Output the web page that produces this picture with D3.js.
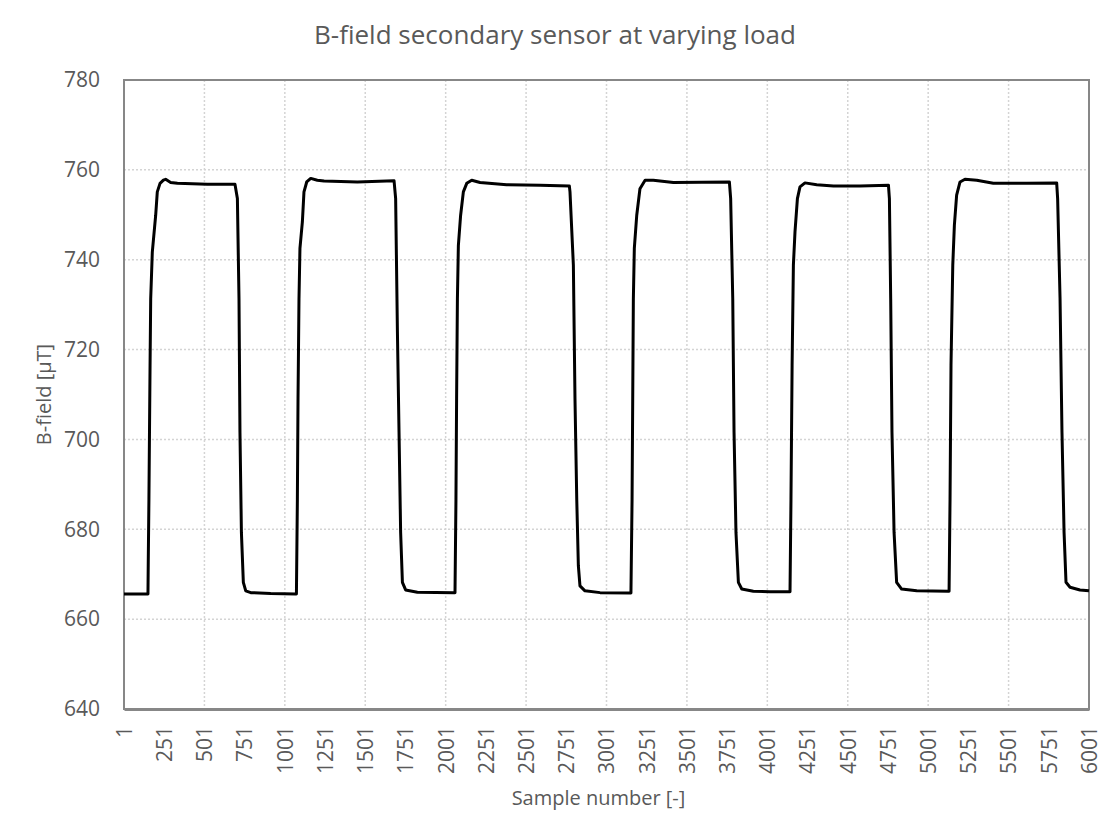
<!DOCTYPE html>
<html>
<head>
<meta charset="utf-8">
<script src="https://cdn.jsdelivr.net/npm/d3@7"></script>
<style>
    body { margin: 0; background: #ffffff; }
    text { font-family: "Open Sans", sans-serif; fill: #595959; }
</style>
</head>
<body>
<div id="chart"></div>
<script>

// Chart data
const sampleNumbers = [
    1, 150, 152, 156, 163, 167, 177, 198, 208, 225, 246, 260, 291, 333, 519, 691, 706, 716, 722, 731, 743, 758, 789, 913, 1068,
    1073, 1079, 1083, 1089, 1095, 1110, 1120, 1137, 1162, 1203, 1245, 1452, 1680, 1690, 1701, 1711, 1721, 1732, 1752, 1825, 2053,
    2059, 2065, 2069, 2074, 2080, 2094, 2111, 2132, 2163, 2215, 2380, 2588, 2770, 2774, 2795, 2805, 2816, 2826, 2836, 2867, 2961, 3151,
    3153, 3160, 3164, 3168, 3174, 3189, 3209, 3241, 3292, 3417, 3765, 3773, 3786, 3794, 3806, 3821, 3842, 3914, 4018, 4142,
    4148, 4155, 4163, 4173, 4188, 4204, 4235, 4308, 4412, 4577, 4754, 4760, 4768, 4776, 4789, 4805, 4836, 4930, 5127,
    5131, 5137, 5143, 5154, 5164, 5178, 5199, 5230, 5303, 5406, 5614, 5800, 5806, 5821, 5833, 5846, 5858, 5883, 5945, 6001
];

const bFieldValues = [
    665.6, 665.6, 673.4, 686.7, 716.5, 731.3, 741.7, 749.9, 755.1, 757.0, 757.7, 757.9, 757.2, 757.0, 756.8, 756.8, 753.6, 731.3, 701.6, 679.3, 668.2, 666.3, 665.9, 665.7, 665.6,
    665.6, 686.7, 709.1, 731.3, 742.5, 748.4, 755.1, 757.3, 758.1, 757.7, 757.5, 757.3, 757.6, 753.6, 723.9, 701.6, 679.3, 668.2, 666.5, 666.0, 665.9,
    665.9, 686.7, 709.1, 731.3, 743.2, 749.9, 755.1, 757.0, 757.7, 757.2, 756.7, 756.6, 756.4, 755.1, 738.8, 709.1, 686.7, 671.9, 667.4, 666.3, 665.9, 665.8,
    665.8, 686.7, 709.1, 731.3, 742.5, 749.9, 755.8, 757.7, 757.7, 757.2, 757.3, 753.6, 731.3, 701.6, 679.3, 668.2, 666.7, 666.2, 666.1, 666.1,
    686.7, 716.5, 738.8, 746.2, 753.6, 756.2, 757.1, 756.7, 756.4, 756.4, 756.6, 753.6, 731.3, 701.6, 679.3, 668.2, 666.7, 666.3, 666.2,
    666.2, 686.7, 716.5, 738.8, 747.7, 754.4, 757.3, 757.9, 757.7, 757.0, 757.0, 757.1, 753.6, 731.3, 701.6, 679.3, 668.2, 667.1, 666.5, 666.3
];

const xTickLabels = [1, 251, 501, 751, 1001, 1251, 1501, 1751, 2001, 2251, 2501, 2751, 3001,
    3251, 3501, 3751, 4001, 4251, 4501, 4751, 5001, 5251, 5501, 5751, 6001];
const xGridValues = [501, 1001, 1501, 2001, 2501, 3001, 3501, 4001, 4501, 5001, 5501];
const yTickValues = [640, 660, 680, 700, 720, 740, 760, 780];

const chartTitle = "B-field secondary sensor at varying load",
      xTitle = "Sample number [-]",
      yTitle = "B-field [µT]";

// Layout
const width = 1112, height = 838;
const margin = { top: 80, right: 23, bottom: 129, left: 124 };
const plotW = width - margin.left - margin.right,
      plotH = height - margin.top - margin.bottom;

const svg = d3.select("#chart").append("svg")
    .attr("width", width)
    .attr("height", height);

const x = d3.scaleLinear().domain([1, 6001]).range([0, plotW]);
const y = d3.scaleLinear().domain([640, 780]).range([plotH, 0]);

const g = svg.append("g").attr("transform", `translate(${margin.left},${margin.top})`);

// Dotted grid lines
g.append("g")
    .selectAll("line.hgrid")
    .data(yTickValues.slice(1, -1))
    .enter().append("line")
    .attr("x1", 0).attr("x2", plotW)
    .attr("y1", d => y(d)).attr("y2", d => y(d))
    .style("stroke", "#d4d4d4").style("stroke-width", 1.5)
    .style("stroke-dasharray", "2,2");

g.append("g")
    .selectAll("line.vgrid")
    .data(xGridValues)
    .enter().append("line")
    .attr("y1", 0).attr("y2", plotH)
    .attr("x1", d => x(d)).attr("x2", d => x(d))
    .style("stroke", "#d4d4d4").style("stroke-width", 1.5)
    .style("stroke-dasharray", "2,2");

// Plot border
g.append("rect")
    .attr("width", plotW).attr("height", plotH)
    .style("fill", "none").style("stroke", "#878787").style("stroke-width", 2);

// Y axis
const yAxis = g.append("g")
    .call(d3.axisLeft(y).tickValues(yTickValues).tickSize(0).tickPadding(24));
yAxis.select(".domain").remove();
yAxis.selectAll("text").style("font-size", "21px").style("fill", "#595959");

// X axis (labels rotated)
const xAxis = g.append("g")
    .attr("transform", `translate(0,${plotH})`)
    .call(d3.axisBottom(x).tickValues(xTickLabels).tickSize(0).tickFormat(d3.format("d")));
xAxis.select(".domain")
    .style("stroke", "#878787").style("stroke-width", 3);
xAxis.selectAll("text")
    .attr("transform", "rotate(-90)")
    .attr("x", -17).attr("y", 0).attr("dy", "0.35em")
    .style("text-anchor", "end")
    .style("font-size", "21px").style("fill", "#595959");

// Data line
const line = d3.line()
    .x((d, i) => x(sampleNumbers[i]))
    .y(d => y(d));

g.append("path")
    .datum(bFieldValues)
    .attr("d", line)
    .style("fill", "none")
    .style("stroke", "#000000")
    .style("stroke-width", 3)
    .style("stroke-linejoin", "round");

// Titles
svg.append("text")
    .attr("x", 555).attr("y", 44)
    .attr("text-anchor", "middle")
    .style("font-size", "26px")
    .text(chartTitle);

svg.append("text")
    .attr("x", margin.left + plotW / 2 - 8).attr("y", 805)
    .attr("text-anchor", "middle")
    .style("font-size", "20px")
    .text(xTitle);

svg.append("text")
    .attr("transform", `translate(51,${margin.top + plotH / 2}) rotate(-90)`)
    .attr("text-anchor", "middle")
    .style("font-size", "20px")
    .text(yTitle);

</script>
</body>
</html>
